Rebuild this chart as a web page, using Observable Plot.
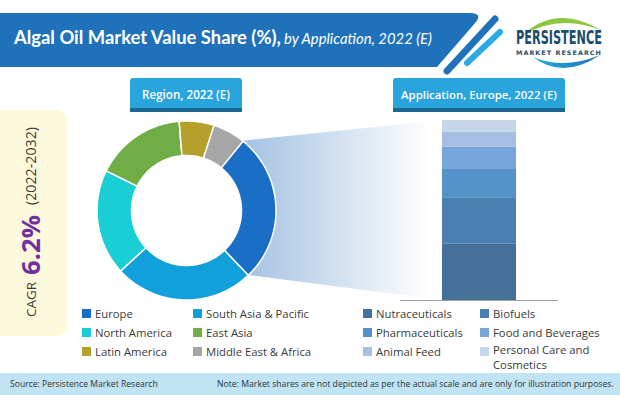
<!DOCTYPE html>
<html>
<head>
<meta charset="utf-8">
<script src="https://cdn.jsdelivr.net/npm/d3@7"></script>
<script src="https://cdn.jsdelivr.net/npm/@observablehq/plot@0.6"></script>
<style>
  html, body { margin: 0; padding: 0; background: #fff; }
  #root { position: relative; width: 620px; height: 395px; overflow: hidden; background: #fff; font-family: "Open Sans", "Noto Sans", sans-serif; }
  #deco { position: absolute; left: 0; top: 0; }
  #donut { position: absolute; left: 94px; top: 118px; }
  #bar { position: absolute; left: 400px; top: 115px; }
  #donut svg, #bar svg { display: block; background: transparent; overflow: visible; }
</style>
</head>
<body>
<div id="root">
  <svg id="deco" width="620" height="395" xmlns="http://www.w3.org/2000/svg"></svg>
  <div id="donut"></div>
  <div id="bar"></div>
</div>
<script>
// ---------------- DATA ----------------
const regions = ["Europe", "South Asia & Pacific", "North America", "East Asia", "Latin America", "Middle East & Africa"];
const regionShares = [27.0, 25.3, 19.1, 16.4, 6.3, 5.9];
const regionColors = ["#1a6ec6", "#12a0dc", "#19ced5", "#70ad47", "#b4a02a", "#a6a6a6"];

const applications = ["Nutraceuticals", "Biofuels", "Pharmaceuticals", "Food and Beverages", "Animal Feed", "Personal Care and Cosmetics"];
const europeShares = [31.5, 25.6, 16.1, 12.0, 8.3, 6.5];
const appColors = ["#44709a", "#4a7fb1", "#5592ca", "#76a5d9", "#a5bee2", "#c5d5ea"];

const titleBold = "Algal Oil Market Value Share (%),";
const titleItalic = "by Application, 2022 (E)";
const regionHeader = "Region, 2022 (E)";
const appHeader = "Application, Europe, 2022 (E)";
const cagrLabel = "CAGR";
const cagrValue = "6.2%";
const cagrPeriod = "(2022-2032)";
const sourceText = "Source: Persistence Market Research";
const noteText = "Note: Market shares are not depicted as per the actual scale and are only for illustration purposes.";

// ---------------- HELPERS ----------------
const NS = "http://www.w3.org/2000/svg";
const deco = document.getElementById("deco");
function el(tag, attrs, parent = deco, text) {
  const e = document.createElementNS(NS, tag);
  for (const k in attrs) e.setAttribute(k, attrs[k]);
  if (text != null) e.textContent = text;
  parent.appendChild(e);
  return e;
}
function fit(e, target) {
  const w = e.getComputedTextLength();
  if (w > 0) {
    const fs = parseFloat(e.getAttribute("font-size"));
    e.setAttribute("font-size", (fs * target / w).toFixed(2));
  }
  return e;
}
function squeeze(txt, x, y, size, target, attrs) {
  const e = el("text", Object.assign({x: 0, y: 0, "font-size": size}, attrs), deco, txt);
  const w = e.getComputedTextLength() || target;
  e.setAttribute("transform", `translate(${x},${y}) scale(${(target / w).toFixed(4)},1)`);
  return e;
}

// ---------------- DONUT geometry ----------------
const regionData = regions.map((r, i) => ({region: r, share: regionShares[i]}));
const start = 39.2 * Math.PI / 180;
const arcs = d3.pie().sort(null).value(d => d.share).startAngle(start).endAngle(start + 2 * Math.PI)(regionData);
const R = 89.5, R0 = 55;
const ringPts = [];
for (const a of arcs) {
  const n = Math.max(6, Math.ceil((a.endAngle - a.startAngle) / (Math.PI / 180)));
  for (let i = 0; i <= n; i++) {
    const t = a.startAngle + (a.endAngle - a.startAngle) * i / n;
    ringPts.push({region: a.data.region, x: R * Math.sin(t), y: R * Math.cos(t)});
  }
  for (let i = n; i >= 0; i--) {
    const t = a.startAngle + (a.endAngle - a.startAngle) * i / n;
    ringPts.push({region: a.data.region, x: R0 * Math.sin(t), y: R0 * Math.cos(t)});
  }
}

const cx = 186, cy = 210;
const eu = arcs[0];
const defs = el("defs", {});
const grad = el("linearGradient", {id: "fun", gradientUnits: "userSpaceOnUse", x1: 242, y1: 0, x2: 430, y2: 0}, defs);
el("stop", {offset: "0", "stop-color": "#a4c1e3"}, grad);
el("stop", {offset: "1", "stop-color": "#ffffff"}, grad);
const gradLogo = el("linearGradient", {id: "lg2", x1: 0, y1: 0, x2: 1, y2: 0}, defs);
el("stop", {offset: "0", "stop-color": "#29abe2"}, gradLogo);
el("stop", {offset: "1", "stop-color": "#1b75bb"}, gradLogo);

// Title banner
el("path", {d: "M0,13 L469,13 Q483,13 476,22 L437,67 L0,67 Z", fill: "#1f72ba"});
el("line", {x1: 495, y1: 19, x2: 447, y2: 71, stroke: "#1f72ba", "stroke-width": 7, "stroke-linecap": "round"});
el("line", {x1: 500, y1: 32, x2: 467, y2: 63, stroke: "#29abe2", "stroke-width": 6, "stroke-linecap": "round"});
const tb = el("text", {x: 14, y: 44, fill: "#fff", "font-family": "Lato, 'Open Sans', sans-serif", "font-weight": 700, "font-size": 17}, deco, titleBold);
fit(tb, 267);
const ti = el("text", {x: 284, y: 44, fill: "#fff", "font-family": "Lato, 'Open Sans', sans-serif", "font-weight": 400, "font-style": "italic", "font-size": 16}, deco, titleItalic);
fit(ti, 148);

// Logo
el("path", {d: "M523,35 Q556,3 603,31 Q560,13 523,35 Z", fill: "#8dc63f"});
el("path", {d: "M533,57 Q563,80 600,55 Q564,70 533,57 Z", fill: "url(#lg2)"});
squeeze("PERSISTENCE", 516, 44, 19, 86, {fill: "#1e4d6b", "font-family": "'DejaVu Sans', sans-serif", "font-weight": 700});
squeeze("MARKET RESEARCH", 516, 55, 6.2, 86, {fill: "#1e4d6b", "font-family": "'DejaVu Sans', sans-serif", "font-weight": 700, "letter-spacing": 1});

// CAGR box
el("rect", {x: -12, y: 110, width: 79, height: 226, rx: 10, fill: "#fdf9dc"});
function rot(txt, y, size, weight, color, target) {
  const e = el("text", {x: 0, y: 0, dy: "0.36em", transform: `translate(31,${y}) rotate(-90)`, "text-anchor": "middle", fill: color, "font-family": "'Open Sans', sans-serif", "font-weight": weight, "font-size": size}, deco, txt);
  fit(e, target);
  return e;
}
rot(cagrLabel, 299.5, 13, 400, "#3a3a3a", 35);
rot(cagrValue, 245, 30, 700, "#7030a0", 60);
rot(cagrPeriod, 166, 13, 400, "#3a3a3a", 78);

// Header boxes
function headerBox(x0, x1, label, target) {
  el("path", {d: `M${x0},112 L${x0},82 Q${x0},78 ${x0 + 4},78 L${x1 - 4},78 Q${x1},78 ${x1},82 L${x1},112 Z`, fill: "#1b6593"});
  el("path", {d: `M${x0},108 L${x0},82 Q${x0},78 ${x0 + 4},78 L${x1 - 4},78 Q${x1},78 ${x1},82 L${x1},108 Z`, fill: "#29a4dd"});
  const t = el("text", {x: (x0 + x1) / 2, y: 98.5, "text-anchor": "middle", fill: "#fff", "font-family": "'Open Sans', sans-serif", "font-weight": 600, "font-size": 12}, deco, label);
  fit(t, target);
}
headerBox(130, 242, regionHeader, 88);
headerBox(393, 565, appHeader, 156);

// Funnel polygon attached to the Europe slice
const p1 = [cx + R * Math.sin(eu.startAngle), cy - R * Math.cos(eu.startAngle)];
const p2 = [cx + R * Math.sin(eu.endAngle), cy - R * Math.cos(eu.endAngle)];
el("polygon", {points: `${p1} 442,120 442,300 ${p2}`, fill: "url(#fun)"});

// Legends
function legend(names, colors, x0s, y0s) {
  const items = [];
  names.forEach((n, i) => {
    const col = i % 2, row = Math.floor(i / 2);
    const x = x0s[col], y = y0s[row];
    el("rect", {x: x, y: y - 4.5, width: 9, height: 9, fill: colors[i]});
    const lines = n === "Personal Care and Cosmetics" ? ["Personal Care and", "Cosmetics"] : [n];
    const off = lines.length > 1 ? -1.5 : 0;
    lines.forEach((l, k) => {
      const t = el("text", {x: x + 13, y: y + 4 + off + k * 15, fill: "#3a3a3a", "font-family": "'Open Sans', sans-serif", "font-size": 12}, deco, l);
      items.push(t);
    });
  });
  return items;
}
const leftItems = legend(regions, regionColors, [82, 193], [313.5, 332.5, 351.5]);
const rightItems = legend(applications, appColors, [363, 480], [313.5, 332.5, 351.5]);
const ref = leftItems[1];
fit(ref, 103);
const legendSize = ref.getAttribute("font-size");
[...leftItems, ...rightItems].forEach(t => t.setAttribute("font-size", legendSize));

// Footer
el("rect", {x: 0, y: 373, width: 620, height: 22, fill: "#c0e4f4"});
fit(el("text", {x: 10, y: 387, fill: "#333", "font-family": "'Open Sans', sans-serif", "font-size": 9}, deco, sourceText), 148);
fit(el("text", {x: 217, y: 387, fill: "#333", "font-family": "'Open Sans', sans-serif", "font-size": 9}, deco, noteText), 397);

// Donut chart
const donut = Plot.plot({
  width: 184, height: 184, margin: 0,
  x: {domain: [-92, 92], axis: null},
  y: {domain: [-92, 92], axis: null},
  color: {domain: regions, range: regionColors},
  marks: [
    Plot.line(ringPts, {x: "x", y: "y", z: "region", fill: "region", stroke: "white", strokeWidth: 1.5, curve: "linear-closed"})
  ]
});
document.getElementById("donut").appendChild(donut);

// Stacked bar
const appData = applications.map((a, i) => ({app: a, share: europeShares[i], group: "Europe"}));
const bar = Plot.plot({
  width: 158, height: 186,
  marginTop: 5, marginBottom: 1, marginLeft: 0, marginRight: 0,
  x: {type: "band", domain: ["Europe"], range: [42, 116], padding: 0, axis: null},
  y: {domain: [0, 100], axis: null},
  color: {domain: applications, range: appColors},
  marks: [
    Plot.barY(appData, {x: "group", y: "share", fill: "app"}),
    Plot.ruleY([0], {stroke: "#a0a0a0", strokeWidth: 1})
  ]
});
document.getElementById("bar").appendChild(bar);
</script>
</body>
</html>
